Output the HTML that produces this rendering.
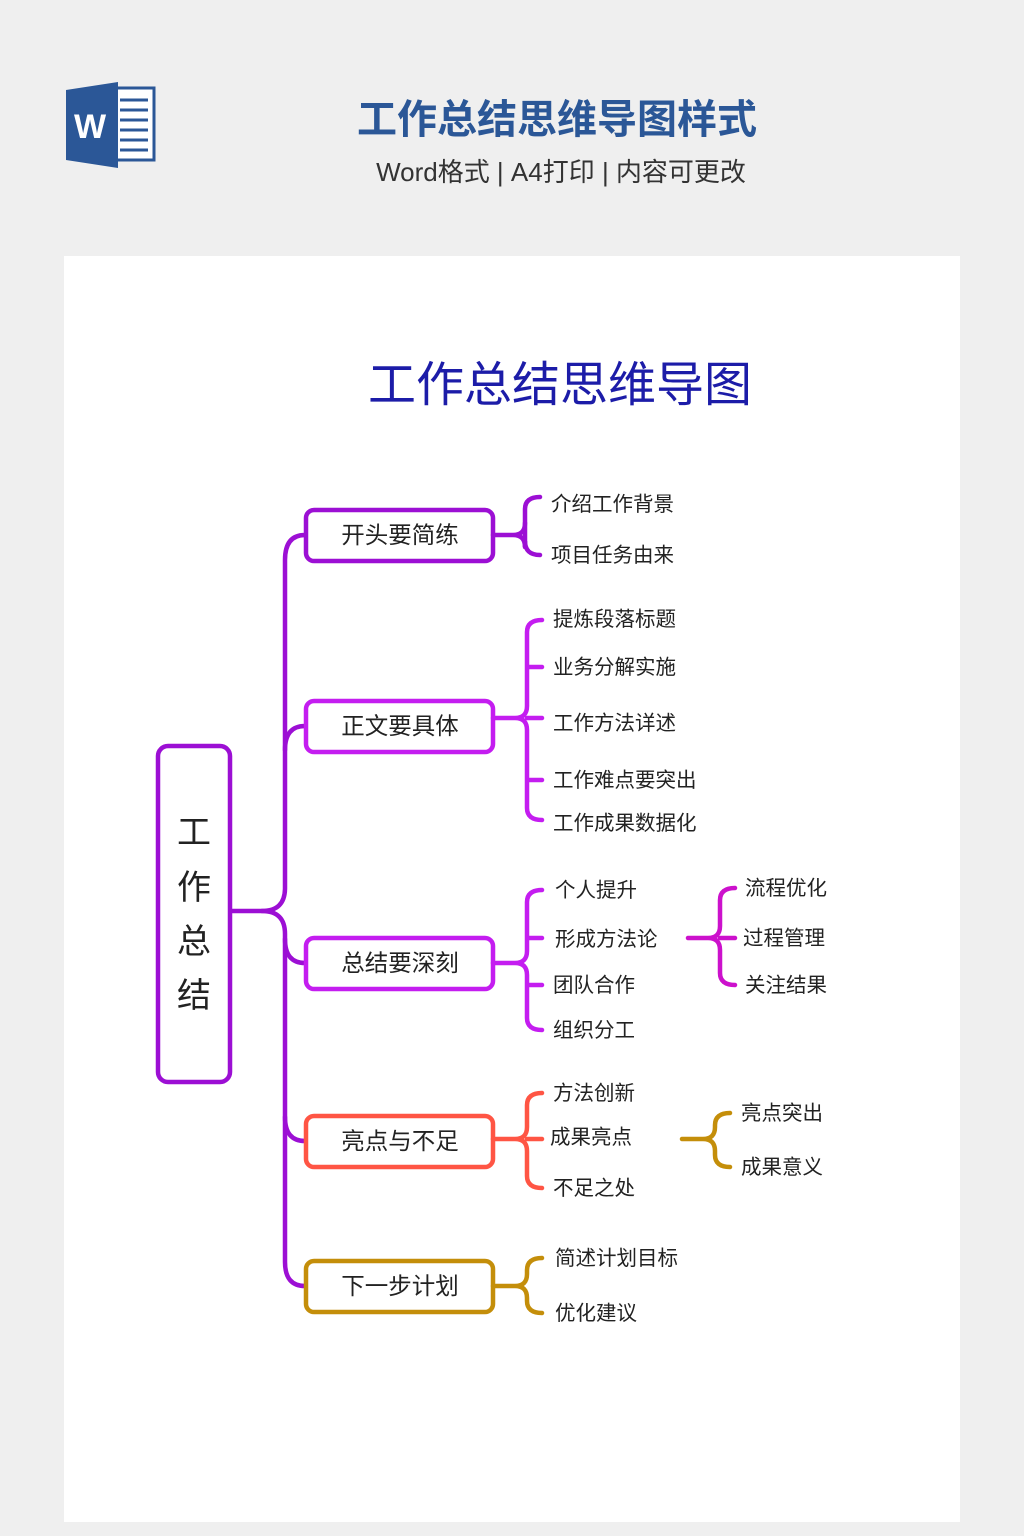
<!DOCTYPE html>
<html><head><meta charset="utf-8"><style>
html,body{margin:0;padding:0;background:#efefef;}
body{width:1024px;height:1536px;position:relative;overflow:hidden;font-family:"Liberation Sans","Noto Sans CJK SC",sans-serif;}
</style></head><body>
<svg width="1024" height="1536" viewBox="0 0 1024 1536" xmlns="http://www.w3.org/2000/svg" style="position:absolute;left:0;top:0">
<g font-family="Liberation Sans, Noto Sans CJK SC, sans-serif">
<rect x="110" y="88" width="44" height="72" fill="#fff" stroke="#2b5797" stroke-width="3"/>
<g stroke="#2b5797" stroke-width="3"><line x1="120" y1="100" x2="148" y2="100"/><line x1="120" y1="110" x2="148" y2="110"/><line x1="120" y1="120" x2="148" y2="120"/><line x1="120" y1="130" x2="148" y2="130"/><line x1="120" y1="140" x2="148" y2="140"/><line x1="120" y1="150" x2="148" y2="150"/></g>
<polygon points="66,90 118,82 118,168 66,160" fill="#2b5797"/>
<text x="90" y="138" font-size="34" font-weight="bold" fill="#fff" text-anchor="middle">W</text>
<text x="557" y="133" font-size="40" font-weight="bold" fill="#2b5797" text-anchor="middle">工作总结思维导图样式</text>
<text x="561" y="181" font-size="26" fill="#333" text-anchor="middle">Word格式 | A4打印 | 内容可更改</text>
<rect x="64" y="256" width="896" height="1266" fill="#fff"/>
<text x="560" y="401" font-size="48" fill="#1c1ca8" text-anchor="middle">工作总结思维导图</text>
<g fill="none" stroke-linecap="round" stroke-width="4.5">
<path d="M230,911 H262 Q285,911 285,888 V560 Q285,535 305,535" stroke="#9c0fd4"/>
<path d="M262,911 Q285,911 285,934 V1262 Q285,1286 305,1286" stroke="#9c0fd4"/>
<path d="M285,750 Q285,726 305,726" stroke="#9c0fd4"/>
<path d="M285,939 Q285,963 305,963" stroke="#9c0fd4"/>
<path d="M285,1117 Q285,1141 305,1141" stroke="#9c0fd4"/>
<rect x="158" y="746" width="72" height="336" rx="10" fill="#fff" stroke="#9c0fd4"/>
<rect x="306" y="510" width="187" height="51" rx="8" fill="#fff" stroke="#9c0fd4"/>
<rect x="306" y="701" width="187" height="51" rx="8" fill="#fff" stroke="#c41df0"/>
<rect x="306" y="938" width="187" height="51" rx="8" fill="#fff" stroke="#c41df0"/>
<rect x="306" y="1116" width="187" height="51" rx="8" fill="#fff" stroke="#ff5544"/>
<rect x="306" y="1261" width="187" height="51" rx="8" fill="#fff" stroke="#c48e0a"/>
<g stroke="#9c0fd4"><path d="M493,535 H513 Q525,535 525,523 V509 Q525,497 540,497 M513,535 Q525,535 525,547 V541 Q525,555 540,555"/><path d="M525,523 V547"/></g>
<g stroke="#c41df0"><path d="M493,718 H515 Q527,718 527,706 V632 Q527,620 542,620 M515,718 Q527,718 527,730 V808 Q527,820 542,820 M527,667 Q527,667 542,667 M527,718 H542 M527,780 H542"/></g>
<g stroke="#c41df0"><path d="M493,963 H515 Q527,963 527,951 V902 Q527,890 542,890 M515,963 Q527,963 527,975 V1018 Q527,1030 542,1030 M527,938 H542 M527,985 H542"/></g>
<g stroke="#cc11cc"><path d="M688,938 H708 Q720,938 720,926 V900 Q720,888 735,888 M708,938 Q720,938 720,950 V973 Q720,985 735,985 M720,938 H735"/></g>
<g stroke="#ff5544"><path d="M493,1139 H515 Q527,1139 527,1127 V1105 Q527,1093 542,1093 M515,1139 Q527,1139 527,1151 V1176 Q527,1188 542,1188 M527,1139 H542"/></g>
<g stroke="#c48e0a"><path d="M682,1139 H703 Q715,1139 715,1127 V1125 Q715,1113 730,1113 M703,1139 Q715,1139 715,1151 V1155 Q715,1167 730,1167"/></g>
<g stroke="#c48e0a"><path d="M493,1286 H515 Q527,1286 527,1274 V1270 Q527,1258 542,1258 M515,1286 Q527,1286 527,1298 V1301 Q527,1313 542,1313"/></g>
</g>
<g font-size="34" fill="#222" text-anchor="middle"><text x="194" y="844">工</text><text x="194" y="899">作</text><text x="194" y="953">总</text><text x="194" y="1007">结</text></g>
<g font-size="23.5" fill="#222" text-anchor="middle"><text x="400" y="543">开头要简练</text><text x="400" y="734">正文要具体</text><text x="400" y="971">总结要深刻</text><text x="400" y="1149">亮点与不足</text><text x="400" y="1294">下一步计划</text></g>
<g font-size="20.5" fill="#222">
<text x="551" y="511">介绍工作背景</text><text x="551" y="562">项目任务由来</text>
<text x="553" y="626">提炼段落标题</text><text x="553" y="674">业务分解实施</text><text x="553" y="730">工作方法详述</text><text x="553" y="787">工作难点要突出</text><text x="553" y="830">工作成果数据化</text>
<text x="555" y="897">个人提升</text><text x="555" y="946">形成方法论</text><text x="553" y="992">团队合作</text><text x="553" y="1037">组织分工</text>
<text x="745" y="895">流程优化</text><text x="743" y="945">过程管理</text><text x="745" y="992">关注结果</text>
<text x="553" y="1100">方法创新</text><text x="550" y="1144">成果亮点</text><text x="553" y="1195">不足之处</text>
<text x="741" y="1120">亮点突出</text><text x="741" y="1174">成果意义</text>
<text x="555" y="1265">简述计划目标</text><text x="555" y="1320">优化建议</text>
</g>
</g>
</svg>
</body></html>
